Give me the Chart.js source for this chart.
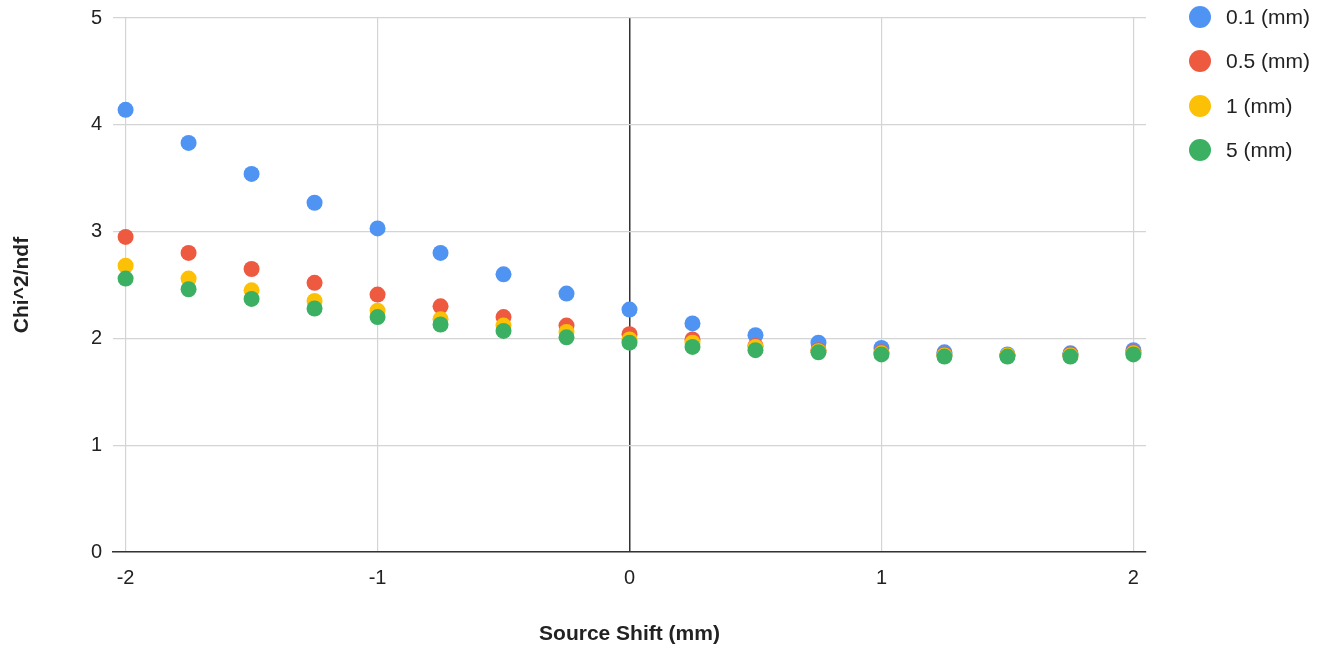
<!DOCTYPE html>
<html>
<head>
<meta charset="utf-8">
<title>Chi^2/ndf vs Source Shift</title>
<script src="https://cdn.jsdelivr.net/npm/chart.js@4.4.1/dist/chart.umd.min.js"></script>
<style>
  html, body { margin: 0; padding: 0; background: #fff; }
  #wrap { position: relative; width: 1328px; height: 649px; }
  #legend { position: absolute; left: 1189px; top: 6px; font-family: Arial, "Liberation Sans", sans-serif; font-size: 21px; color: #222; }
  .item { display: flex; align-items: center; height: 22px; margin-bottom: 22.3px; }
  .dot { width: 22px; height: 22px; border-radius: 50%; margin-right: 15px; }
</style>
</head>
<body>
<div id="wrap">
  <canvas id="graph"></canvas>
  <div id="legend"></div>
</div>
<script>
// source shift (mm)
var shiftX = [-2, -1.75, -1.5, -1.25, -1, -0.75, -0.5, -0.25, 0, 0.25, 0.5, 0.75, 1, 1.25, 1.5, 1.75, 2];

// chi^2/ndf per resolution
var chi01 = [4.14, 3.83, 3.54, 3.27, 3.03, 2.80, 2.60, 2.42, 2.27, 2.14, 2.03, 1.96, 1.91, 1.87, 1.85, 1.86, 1.89];
var chi05 = [2.95, 2.80, 2.65, 2.52, 2.41, 2.30, 2.20, 2.12, 2.04, 1.99, 1.93, 1.89, 1.87, 1.85, 1.84, 1.85, 1.87];
var chi1  = [2.68, 2.56, 2.45, 2.35, 2.26, 2.18, 2.12, 2.06, 1.99, 1.96, 1.92, 1.88, 1.86, 1.84, 1.84, 1.84, 1.86];
var chi5  = [2.56, 2.46, 2.37, 2.28, 2.20, 2.13, 2.07, 2.01, 1.96, 1.92, 1.89, 1.87, 1.85, 1.83, 1.83, 1.83, 1.85];

var seriesLabels = ['0.1 (mm)', '0.5 (mm)', '1 (mm)', '5 (mm)'];
var seriesColors = ['#4f94f3', '#ee5a40', '#fcc106', '#3bb062'];
var xTicks = [-2, -1, 0, 1, 2];
var yTicks = [0, 1, 2, 3, 4, 5];

function toPoints(ys) {
  return ys.map(function (y, i) { return { x: shiftX[i], y: y }; });
}

var allSeries = [chi01, chi05, chi1, chi5];
var datasets = allSeries.map(function (ys, i) {
  return {
    label: seriesLabels[i],
    data: toPoints(ys),
    backgroundColor: seriesColors[i],
    borderColor: seriesColors[i],
    pointRadius: 8,
    pointHoverRadius: 8,
    pointBorderWidth: 0,
    showLine: false,
    order: allSeries.length - i   // green drawn on top
  };
});

Chart.defaults.font.family = 'Arial, "Liberation Sans", sans-serif';
Chart.defaults.color = '#222';

var config = {
  type: 'scatter',
  data: { datasets: datasets },
  options: {
    responsive: true,
    maintainAspectRatio: false,
    animation: false,
    layout: { padding: { top: 18, right: 182, bottom: 0, left: 0 } },
    plugins: {
      legend: { display: false },
      tooltip: { enabled: false }
    },
    scales: {
      x: {
        type: 'linear',
        min: -2.05,
        max: 2.05,
        afterBuildTicks: function (s) { s.ticks = xTicks.map(function (v) { return { value: v }; }); },
        afterFit: function (s) { s.height = 97; },
        ticks: { font: { size: 20 }, color: '#222', padding: 14 },
        grid: {
          drawTicks: false,
          color: function (c) { return c.tick && c.tick.value === 0 ? '#333' : '#d4d4d4'; },
          lineWidth: function (c) { return c.tick && c.tick.value === 0 ? 1.5 : 1.2; }
        },
        border: { display: true, color: '#333', width: 1.5 },
        title: {
          display: true,
          text: 'Source Shift (mm)',
          font: { size: 21, weight: 'bold' },
          color: '#222',
          padding: { top: 0, bottom: 2 }
        }
      },
      y: {
        min: 0,
        max: 5,
        afterBuildTicks: function (s) { s.ticks = yTicks.map(function (v) { return { value: v }; }); },
        afterFit: function (s) { s.width = 113; s.paddingTop = 0; s.paddingBottom = 0; },
        ticks: { font: { size: 20 }, color: '#222', padding: 11 },
        grid: { drawTicks: false, color: '#d4d4d4', lineWidth: 1.2 },
        border: { display: false },
        title: {
          display: true,
          text: 'Chi^2/ndf',
          font: { size: 21, weight: 'bold' },
          color: '#222',
          padding: { top: 10, bottom: 0 }
        }
      }
    }
  }
};

var myChart = new Chart(document.getElementById('graph'), config);

// legend as html
var legendBox = document.getElementById('legend');
seriesLabels.forEach(function (lab, i) {
  var row = document.createElement('div');
  row.className = 'item';
  var dot = document.createElement('span');
  dot.className = 'dot';
  dot.style.background = seriesColors[i];
  var txt = document.createElement('span');
  txt.textContent = lab;
  row.appendChild(dot);
  row.appendChild(txt);
  legendBox.appendChild(row);
});
</script>
</body>
</html>
